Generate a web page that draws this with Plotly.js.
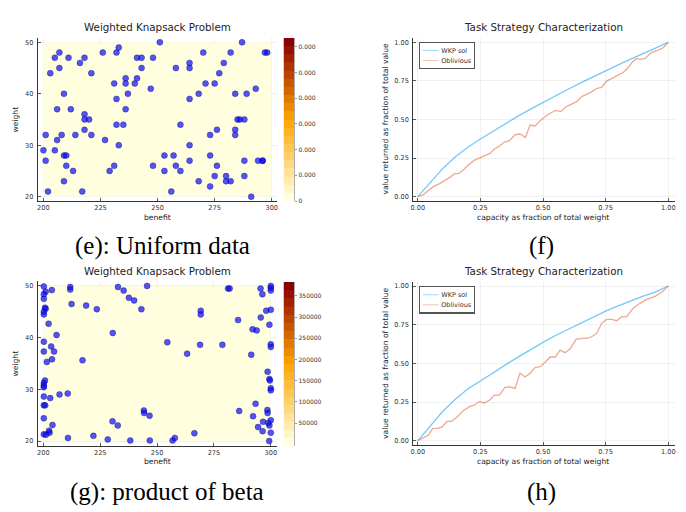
<!DOCTYPE html>
<html><head><meta charset="utf-8">
<script src="https://cdn.plot.ly/plotly-3.0.1.min.js"></script>
<style>html,body{margin:0;padding:0;background:#fff;}#chart{width:686px;height:512px;}</style>
</head><body><div id="chart"></div>
<script>
// ---------- DATA ----------
// (e) Uniform data: benefit / weight
const uniBenefit = [200,201,201,202,203,205,205,206,206,207,207,208,209,209,210,209,210,211,212,213,214,216,217,218,218,218,218,220,221,221,226,227,229,231,231,232,232,232,233,233,235,236,236,236,237,240,241,241,243,243,247,248,248,251,253,253,256,257,258,258,260,260,264,264,264,264,264,268,268,270,271,273,273,273,275,275,276,276,277,279,280,280,282,282,284,284,284,285,286,288,287,288,288,289,291,293,294,296,296,297,298];
const uniWeight  = [29,27,32,21,44,47,29,37,31,48,45,32,40,28,28,23,26,47,37,25,32,46,21,47,36,35,33,35,44,32,48,31,25,42,26,48,39,34,49,30,34,43,42,37,40,42,43,47,47,45,41,47,26,50,28,25,21,28,45,26,34,25,46,45,39,30,27,40,23,48,42,32,28,22,42,24,33,26,44,46,24,23,48,23,40,33,32,35,35,35,50,27,24,40,20,41,27,27,27,48,48];
// (g) product of beta: benefit / weight
const betaBenefit = [200.2,201.0,203.7,200.2,200.2,200.7,201.0,200.2,200.2,202.3,205.8,200.2,203.4,204.7,200.2,203.8,201.5,200.7,200.2,200.2,200.2,200.2,203.0,207.1,210.7,200.2,200.8,200.2,204.0,202.5,202.7,200.2,201.1,210.8,211.8,211.8,212.4,218.8,223.5,217.2,230.5,230.4,232.7,222.0,228.3,238.2,232.8,235.3,237.6,239.9,243.1,245.6,244.2,244.3,246.7,246.8,254.5,263.2,256.8,257.8,266.4,269.2,269.2,268.9,278.7,281.2,281.9,285.6,286.1,291.4,292.2,292.0,293.8,293.3,294.4,296.6,296.4,295.5,296.3,295.6,298.0,298.6,298.5,298.6,299.4,299.4,299.6,300.0,300.0,300.0,300.0,300.0,300.0,300.0,300.0,298.9,299.4,300.0,300.0,299.3];
const betaWeight  = [49.9,48.9,49.2,48.4,47.5,45.8,45.6,45.0,44.5,42.7,40.5,39.2,38.3,37.3,37.3,35.8,35.3,31.7,31.2,30.7,30.4,28.6,28.3,29.0,29.2,26.9,26.9,24.4,23.1,22.0,21.6,21.3,21.2,20.6,49.8,49.3,46.5,46.2,45.5,35.6,40.9,23.8,23.0,21.0,20.3,20.1,49.8,49.1,47.7,47.2,45.5,50.0,25.9,25.4,24.9,20.1,39.1,36.9,20.1,20.6,21.5,45.2,44.5,38.6,38.6,49.5,49.5,43.4,25.8,36.7,24.8,41.6,41.4,27.2,22.7,23.7,21.9,49.5,48.4,43.9,45.2,33.4,26.0,25.4,42.5,32.0,31.7,50.0,49.6,49.1,45.4,38.7,38.2,30.2,29.8,23.5,23.0,24.0,21.6,20.0];
// benefit / weight extent covered by the heat-map background
const benefitExtent = [200, 300];
const weightExtent = [20, 50];

// (f) / (h) strategy curves
const capFrac = [0,0.05,0.1,0.15,0.2,0.25,0.3,0.35,0.4,0.45,0.5,0.55,0.6,0.65,0.7,0.75,0.8,0.85,0.9,0.95,1];
const wkpUniform = [0,0.095,0.183,0.258,0.32,0.374,0.425,0.475,0.522,0.567,0.611,0.654,0.696,0.737,0.777,0.815,0.854,0.891,0.928,0.964,1];
const oblUniformX = [0,0.02,0.039,0.062,0.089,0.116,0.132,0.146,0.162,0.18,0.198,0.225,0.249,0.273,0.286,0.305,0.322,0.346,0.366,0.387,0.408,0.419,0.43,0.448,0.468,0.491,0.508,0.532,0.551,0.571,0.592,0.614,0.634,0.656,0.681,0.701,0.715,0.734,0.754,0.781,0.805,0.821,0.838,0.858,0.874,0.89,0.907,0.934,0.96,0.98,1];
const oblUniformY = [0,0.01,0.037,0.065,0.086,0.112,0.13,0.149,0.149,0.17,0.2,0.235,0.253,0.268,0.279,0.307,0.324,0.354,0.363,0.4,0.406,0.395,0.384,0.464,0.458,0.495,0.518,0.544,0.559,0.551,0.583,0.6,0.616,0.65,0.667,0.687,0.702,0.708,0.749,0.771,0.795,0.806,0.832,0.875,0.896,0.89,0.896,0.935,0.95,0.965,1];
const wkpBeta = [0,0.098,0.19,0.268,0.335,0.386,0.44,0.49,0.54,0.59,0.636,0.68,0.72,0.76,0.8,0.838,0.872,0.905,0.935,0.962,1];
const oblBetaX = [0,0.02,0.043,0.06,0.078,0.096,0.116,0.136,0.156,0.18,0.206,0.226,0.246,0.266,0.286,0.306,0.326,0.348,0.368,0.388,0.408,0.428,0.448,0.468,0.488,0.508,0.528,0.549,0.568,0.588,0.608,0.632,0.654,0.674,0.694,0.714,0.734,0.754,0.774,0.794,0.814,0.834,0.86,0.887,0.914,0.934,0.953,0.98,1];
const oblBetaY = [0,0.015,0.037,0.08,0.08,0.088,0.123,0.127,0.151,0.192,0.22,0.231,0.252,0.244,0.261,0.295,0.295,0.345,0.347,0.338,0.437,0.412,0.435,0.472,0.478,0.506,0.541,0.541,0.586,0.569,0.593,0.655,0.662,0.662,0.672,0.692,0.759,0.784,0.784,0.776,0.802,0.802,0.856,0.888,0.914,0.925,0.938,0.968,1];

// colour-bar tick labels
const uniCbarTicks = [0,1,2,3,4,5,6];
const uniCbarLabels = ['0','0.000','0.000','0.000','0.000','0.000','0.000'];
const uniCbarRange = [0, 6.34];
const betaCbarTicks = [50000,100000,150000,200000,250000,300000,350000];
const betaCbarLabels = ['50000','100000','150000','200000','250000','300000','350000'];
const betaCbarRange = [-4250, 383000];

const lineTicks = [0,0.25,0.5,0.75,1];
const benefitTicks = [200,225,250,275,300];
const weightTicks = [20,30,40,50];

// ---------- LAYOUT HELPERS ----------
const W = 686, H = 512;
const FONT = 'DejaVu Sans';
const dx = (a,b) => [a/W, b/W];
const dy = (top,bottom) => [1-bottom/H, 1-top/H];
const heat = [[0,'#ffffe0'],[0.5,'#ffa500'],[1,'#8b0000']];

function baseAxis(extra){
  return Object.assign({
    showline:true, linecolor:'#333', linewidth:1, mirror:false,
    ticks:'inside', ticklen:3, tickcolor:'#333', tickwidth:0.8,
    showgrid:true, gridcolor:'rgba(0,0,0,0.09)', gridwidth:0.6, zeroline:false,
    tickfont:{family:FONT, size:6.6, color:'#333'}, fixedrange:true
  }, extra);
}
function cbarAxes(domX, domY, rng, tv, tt, xa, ya){
  return [
    {domain:domX, range:[0,1], visible:false, anchor:ya, fixedrange:true},
    {domain:domY, range:rng, anchor:xa, side:'right', showline:true, linecolor:'#999', linewidth:0.8,
     ticks:'outside', ticklen:2.5, tickcolor:'#999', showgrid:false, zeroline:false,
     tickvals:tv, ticktext:tt, tickfont:{family:FONT, size:6, color:'#333'}, fixedrange:true}
  ];
}
function cbarTrace(rng, xa, ya){
  const n = 20, edges = [], z = [];
  for(let i=0;i<=n;i++) edges.push(rng[0] + (rng[1]-rng[0])*i/n);
  for(let i=0;i<n;i++) z.push([i]);
  return {type:'heatmap', x:[0,1], y:edges, z:z, zmin:0, zmax:n-1, colorscale:heat,
          showscale:false, hoverinfo:'skip', xaxis:xa, yaxis:ya};
}

const marker = {size:6, color:'rgba(10,10,245,0.7)', line:{color:'rgba(0,0,110,0.55)', width:0.6}};
const blue = 'rgba(0,154,250,0.55)', orange = 'rgba(227,111,71,0.6)';

const data = [
  // (e)
  {type:'heatmap', x:benefitExtent, y:weightExtent, z:[[0]], zmin:0, zmax:1, colorscale:heat, showscale:false, hoverinfo:'skip', xaxis:'x', yaxis:'y'},
  {type:'scatter', mode:'markers', x:uniBenefit, y:uniWeight, marker:marker, showlegend:false, xaxis:'x', yaxis:'y'},
  cbarTrace(uniCbarRange,'x2','y2'),
  // (f)
  {type:'scatter', mode:'lines', name:'WKP sol', x:capFrac, y:wkpUniform, line:{color:blue, width:1.3}, xaxis:'x3', yaxis:'y3', legend:'legend'},
  {type:'scatter', mode:'lines', name:'Oblivious', x:oblUniformX, y:oblUniformY, line:{color:orange, width:1.3}, xaxis:'x3', yaxis:'y3', legend:'legend'},
  // (g)
  {type:'heatmap', x:benefitExtent, y:weightExtent, z:[[0]], zmin:0, zmax:1, colorscale:heat, showscale:false, hoverinfo:'skip', xaxis:'x4', yaxis:'y4'},
  {type:'scatter', mode:'markers', x:betaBenefit, y:betaWeight, marker:marker, showlegend:false, xaxis:'x4', yaxis:'y4'},
  cbarTrace(betaCbarRange,'x5','y5'),
  // (h)
  {type:'scatter', mode:'lines', name:'WKP sol', x:capFrac, y:wkpBeta, line:{color:blue, width:1.3}, xaxis:'x6', yaxis:'y6', legend:'legend2'},
  {type:'scatter', mode:'lines', name:'Oblivious', x:oblBetaX, y:oblBetaY, line:{color:orange, width:1.3}, xaxis:'x6', yaxis:'y6', legend:'legend2'}
];

const cb1 = cbarAxes(dx(283.5,294), dy(38,201), uniCbarRange, uniCbarTicks, uniCbarLabels, 'x2', 'y2');
const cb2 = cbarAxes(dx(283.5,294), dy(282,446), betaCbarRange, betaCbarTicks, betaCbarLabels, 'x5', 'y5');

const legendBase = {xanchor:'left', yanchor:'top', bgcolor:'#fff', bordercolor:'#555', borderwidth:2,
  font:{family:FONT, size:12.3, color:'#333'}, tracegroupgap:0, itemwidth:30};

function ann(text, x, y, size, opts){
  return Object.assign({text:text, x:x/W, y:1-y/H, xref:'paper', yref:'paper', showarrow:false,
    xanchor:'center', yanchor:'middle', font:{family:FONT, size:size, color:'#222'}}, opts||{});
}
const serif = {family:'Liberation Serif', size:25, color:'#000'};

const layout = {
  width:W, height:H, margin:{l:0,r:0,t:0,b:0}, paper_bgcolor:'#fff', plot_bgcolor:'#fff',
  showlegend:true,
  xaxis: baseAxis({domain:dx(37.7,277), range:[197.5,302.3], tickvals:benefitTicks, anchor:'y'}),
  yaxis: baseAxis({domain:dy(38,201), range:[19.16,50.84], tickvals:weightTicks, anchor:'x', ticklabelstandoff:2}),
  xaxis2: cb1[0], yaxis2: cb1[1],
  xaxis3: baseAxis({domain:dx(413.3,675), range:[-0.018,1.027], tickvals:lineTicks, tickformat:'.2f', anchor:'y3'}),
  yaxis3: baseAxis({domain:dy(38,201), range:[-0.028,1.028], tickvals:lineTicks, tickformat:'.2f', anchor:'x3', ticklabelstandoff:2}),
  xaxis4: baseAxis({domain:dx(37.7,276.7), range:[197.5,302.6], tickvals:benefitTicks, anchor:'y4'}),
  yaxis4: baseAxis({domain:dy(281.3,445.7), range:[19.09,50.9], tickvals:weightTicks, anchor:'x4', ticklabelstandoff:2}),
  xaxis5: cb2[0], yaxis5: cb2[1],
  xaxis6: baseAxis({domain:dx(413.3,675), range:[-0.018,1.027], tickvals:lineTicks, tickformat:'.2f', anchor:'y6'}),
  yaxis6: baseAxis({domain:dy(281.7,445), range:[-0.028,1.028], tickvals:lineTicks, tickformat:'.2f', anchor:'x6', ticklabelstandoff:2}),
  legend: Object.assign({x:419/W, y:1-41.7/H}, legendBase),
  legend2: Object.assign({x:419/W, y:1-286/H}, legendBase),
  annotations: [
    ann('Weighted Knapsack Problem', 157.5, 27, 10.3),
    ann('Weighted Knapsack Problem', 157.5, 270.7, 10.3),
    ann('Task Strategy Characterization', 543.3, 27, 10.3),
    ann('Task Strategy Characterization', 543.3, 270.7, 10.3),
    ann('weight', 15, 119.5, 7.6, {textangle:-90}),
    ann('weight', 15, 363.5, 7.6, {textangle:-90}),
    ann('benefit', 157, 217, 7.6),
    ann('benefit', 157, 461, 7.6),
    ann('value returned as fraction of total value', 385, 118.5, 7.6, {textangle:-90}),
    ann('value returned as fraction of total value', 385, 363, 7.6, {textangle:-90}),
    ann('capacity as fraction of total weight', 543.3, 217, 7.6),
    ann('capacity as fraction of total weight', 543.3, 461, 7.6),
    ann('(e): Uniform data', 162, 246, 25, {font:serif}),
    ann('(f)', 541, 246, 25, {font:serif}),
    ann('(g): product of beta', 167, 492, 25, {font:serif}),
    ann('(h)', 541, 492, 25, {font:serif})
  ]
};

Plotly.newPlot('chart', data, layout, {staticPlot:true, displayModeBar:false}).then(function(gd){
  gd.querySelectorAll('g.legend, g.legend2').forEach(function(g){
    var t = g.getAttribute('transform') || '';
    g.setAttribute('transform', t + ' scale(0.53)');
  });
});
</script>
</body></html>
